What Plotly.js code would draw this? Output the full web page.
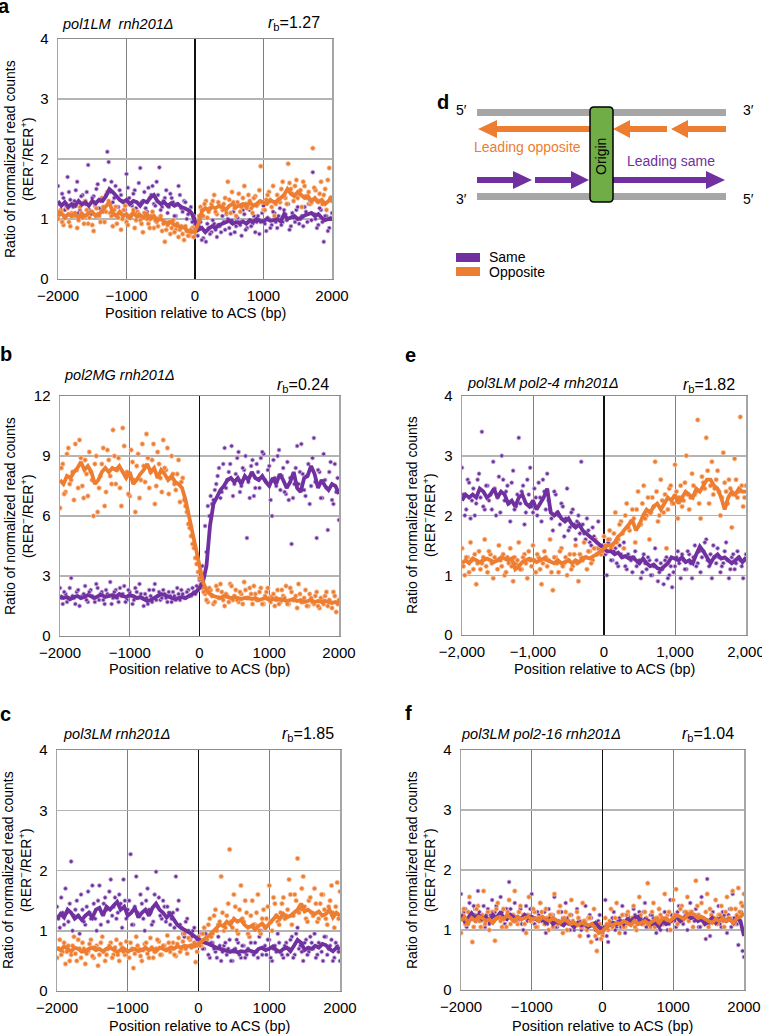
<!DOCTYPE html>
<html><head><meta charset="utf-8">
<script src="https://cdn.plot.ly/plotly-3.0.1.min.js"></script>
<style>html,body{margin:0;padding:0;background:#fff}#chart{width:762px;height:1036px}</style>
</head><body><div id="chart"></div>
<script>
// ---------- data ----------
const dotPositions = [-2000,-1960,-1920,-1880,-1840,-1800,-1760,-1720,-1680,-1640,
-1600,-1560,-1520,-1480,-1440,-1400,-1360,-1320,-1280,-1240,
-1200,-1160,-1120,-1080,-1040,-1000,-960,-920,-880,-840,
-800,-760,-720,-680,-640,-600,-560,-520,-480,-440,
-400,-360,-320,-280,-240,-200,-160,-120,-80,-40,
0,40,80,120,160,200,240,280,320,360,
400,440,480,520,560,600,640,680,720,760,
800,840,880,920,960,1000,1040,1080,1120,1160,
1200,1240,1280,1320,1360,1400,1440,1480,1520,1560,
1600,1640,1680,1720,1760,1800,1840,1880,1920,1960,2000];
const dotPositions2 = [-1980,-1940,-1900,-1860,-1820,-1780,-1740,-1700,-1660,-1620,
-1580,-1540,-1500,-1460,-1420,-1380,-1340,-1300,-1260,-1220,
-1180,-1140,-1100,-1060,-1020,-980,-940,-900,-860,-820,
-780,-740,-700,-660,-620,-580,-540,-500,-460,-420,
-380,-340,-300,-260,-220,-180,-140,-100,-60,-20,
20,60,100,140,180,220,260,300,340,380,
420,460,500,540,580,620,660,700,740,780,
820,860,900,940,980,1020,1060,1100,1140,1180,
1220,1260,1300,1340,1380,1420,1460,1500,1540,1580,
1620,1660,1700,1740,1780,1820,1860,1900,1940,1980];
const linePositions = [-2000,-1950,-1900,-1850,-1800,-1750,-1700,-1650,-1600,-1550,
-1500,-1450,-1400,-1350,-1300,-1250,-1200,-1150,-1100,-1050,
-1000,-950,-900,-850,-800,-750,-700,-650,-600,-550,
-500,-450,-400,-350,-300,-250,-200,-150,-100,-50,
0,50,100,150,200,250,300,350,400,450,
500,550,600,650,700,750,800,850,900,950,
1000,1050,1100,1150,1200,1250,1300,1350,1400,1450,
1500,1550,1600,1650,1700,1750,1800,1850,1900,1950,2000];

// panel a: pol1LM rnh201Δ
const aSameDots = [1.55,1.10,1.35,1.20,1.45,1.05,1.30,1.62,1.15,1.40,
1.25,1.90,1.08,1.38,1.50,1.18,1.32,1.65,2.12,1.45,
1.28,1.55,1.20,1.40,1.15,1.75,1.35,1.22,1.48,1.10,
1.85,1.30,1.18,1.52,1.40,1.25,1.62,1.86,1.20,1.35,
1.10,1.42,1.28,1.05,1.55,1.18,1.30,1.00,1.15,0.95,
0.90,0.72,0.95,0.68,0.62,0.85,0.78,0.92,0.70,0.88,
1.05,0.82,1.00,0.75,1.12,0.88,0.95,0.72,1.08,0.85,
1.15,0.92,0.78,1.05,0.95,1.22,0.80,1.00,0.90,1.10,
0.85,1.18,0.95,1.08,1.25,0.88,1.02,1.15,0.92,1.05,
1.20,0.95,1.30,1.78,1.00,0.90,1.15,0.62,1.05,0.85,1.10];
const aSameDots2 = [1.25,1.42,1.15,1.70,1.32,1.20,1.48,1.10,1.38,1.28,
1.45,1.15,1.35,1.22,1.58,1.30,1.12,1.40,1.95,1.62,
1.35,1.20,1.48,1.30,1.15,1.52,1.25,1.42,1.18,1.60,
1.28,1.45,1.12,1.35,1.55,1.22,1.40,1.15,1.30,1.48,
1.20,1.35,1.05,1.25,1.40,1.12,1.28,1.08,1.20,1.05,
0.80,0.88,0.65,0.80,0.92,0.75,0.98,0.82,0.90,0.78,
0.95,1.08,0.85,0.98,0.78,1.02,0.90,1.15,0.82,0.95,
0.88,1.05,0.95,0.75,1.10,0.92,1.02,0.85,1.12,0.95,
1.05,0.90,1.15,0.98,0.82,1.10,0.95,1.20,1.00,0.88,
1.12,1.25,0.98,1.08,0.85,1.18,0.95,1.05,0.80,1.02];
const aOppDots = [1.00,1.15,0.90,1.25,0.95,1.10,1.05,0.85,1.20,1.02,
1.30,0.92,1.12,0.80,1.18,1.05,1.35,0.95,1.45,1.10,
0.88,1.20,1.02,0.82,1.15,0.95,1.25,1.08,0.85,1.12,
0.98,0.78,1.10,0.92,1.05,0.85,0.95,1.02,0.80,0.62,
0.90,0.75,0.98,0.82,0.70,0.88,0.65,0.80,0.72,0.85,
0.78,0.95,1.20,1.05,1.30,1.12,1.25,1.40,1.08,1.22,
1.15,1.35,1.62,1.10,1.28,1.05,1.42,1.20,1.55,1.18,
1.30,1.10,1.38,1.25,1.88,1.15,1.32,1.45,1.20,1.05,
1.40,1.28,1.62,1.35,1.92,1.50,1.30,1.65,1.42,1.20,
1.55,1.35,1.25,2.18,1.48,1.30,1.62,1.40,1.15,1.85,1.30];
const aOppDots2 = [1.12,0.95,1.05,1.18,0.88,1.08,1.22,0.98,1.10,0.92,
1.15,1.02,0.90,1.25,1.08,0.95,1.20,1.12,1.30,1.05,
1.15,0.92,1.10,1.00,1.22,0.90,1.05,1.15,0.98,1.08,
0.92,1.10,1.00,0.85,1.12,0.98,0.88,1.05,0.92,0.82,
0.95,0.85,0.78,0.92,0.82,0.75,0.88,0.72,0.82,0.70,
0.88,1.05,1.15,1.25,1.02,1.18,1.30,1.12,1.28,1.20,
1.25,1.10,1.32,1.45,1.18,1.28,1.12,1.35,1.25,1.40,
1.18,1.35,1.22,1.48,1.28,1.15,1.40,1.30,1.55,1.25,
1.32,1.50,1.38,1.25,1.60,1.42,1.55,1.35,1.48,1.62,
1.38,1.45,1.28,1.52,1.30,1.42,1.25,1.50,1.65,1.35];
const aSameLine = [1.30,1.22,1.28,1.20,1.25,1.22,1.30,1.24,1.28,1.22,
1.30,1.26,1.32,1.30,1.38,1.50,1.45,1.38,1.32,1.28,
1.32,1.25,1.30,1.28,1.22,1.30,1.28,1.36,1.40,1.30,
1.25,1.28,1.22,1.26,1.22,1.25,1.20,1.18,1.15,1.10,
0.95,0.82,0.85,0.78,0.84,0.88,0.85,0.90,0.92,0.95,
0.97,0.92,0.95,0.93,0.96,0.92,0.98,0.95,1.00,0.97,
0.96,1.00,0.97,0.98,1.00,0.96,1.08,1.00,1.02,1.05,
1.00,1.02,1.06,1.08,1.10,1.05,1.08,1.02,0.98,1.00,1.00];
const aOppLine = [1.05,1.10,1.02,1.08,1.05,1.10,1.02,1.08,1.05,1.10,
1.12,1.05,1.08,1.15,1.22,1.28,1.10,1.05,1.12,1.05,
1.08,1.02,1.10,1.04,1.06,1.02,1.08,1.00,1.05,0.98,
1.00,0.95,0.92,0.95,0.90,0.88,0.86,0.85,0.80,0.78,
0.80,0.92,1.12,1.18,1.15,1.20,1.18,1.22,1.20,1.15,
1.22,1.25,1.20,1.22,1.25,1.20,1.28,1.22,1.25,1.30,
1.28,1.25,1.32,1.28,1.30,1.35,1.40,1.50,1.42,1.38,
1.45,1.40,1.35,1.38,1.30,1.35,1.28,1.32,1.25,1.30,1.38];

// panel b: pol2MG rnh201Δ
const bSameDots = [2.4,1.6,2.1,1.8,2.9,1.9,2.2,1.5,2.0,2.5,
1.7,2.3,1.9,2.6,1.8,2.2,1.6,2.1,2.7,1.9,
2.3,1.7,2.0,2.5,1.8,2.2,1.6,2.4,1.9,2.1,
1.5,1.9,2.3,1.7,2.6,2.0,1.8,2.3,1.9,2.2,
1.7,2.0,2.4,1.8,2.1,1.9,2.3,2.0,2.2,2.5,
2.8,3.5,5.5,6.5,7.0,6.8,7.6,8.4,7.2,9.4,
7.8,8.6,7.0,8.1,9.2,7.5,8.3,4.9,6.9,8.8,
7.4,8.2,8.9,9.1,7.7,8.5,6.0,7.9,9.0,7.3,
8.4,7.1,6.8,4.6,7.6,9.5,8.2,8.1,7.0,8.6,
7.5,9.9,4.9,8.2,6.9,7.8,5.3,8.7,6.6,7.2,5.8];
const bSameDots2 = [1.9,2.2,1.7,2.4,2.0,1.6,2.3,1.9,2.1,1.8,
2.2,2.0,1.7,2.4,2.1,1.8,2.3,2.0,1.6,2.2,
1.9,2.4,2.1,1.7,2.3,2.0,1.8,2.2,2.6,1.9,
2.1,1.6,2.0,2.3,1.8,2.2,1.9,2.1,1.7,2.0,
2.2,1.8,2.1,2.3,1.9,2.2,2.0,2.4,2.1,2.3,
2.6,3.0,4.2,6.0,6.6,7.3,8.0,6.9,8.6,7.4,
8.2,9.5,7.6,8.9,7.2,8.4,9.0,7.7,8.5,7.0,
8.6,7.4,9.2,7.8,8.3,6.8,8.8,7.5,9.3,8.0,
7.2,8.7,7.9,6.9,8.4,7.6,9.6,7.3,8.0,6.6,
8.9,7.7,8.3,6.9,9.1,7.4,8.2,6.8,8.6,7.9];
const bOppDots = [6.4,8.6,7.2,9.4,7.8,6.8,8.3,9.8,7.5,8.8,
7.0,8.2,6.0,9.0,7.4,8.6,6.5,9.3,8.0,10.3,
7.6,8.9,6.5,9.5,8.2,7.0,8.7,6.2,9.1,7.8,
8.5,10.1,7.4,8.8,6.6,9.2,7.9,9.8,8.3,7.1,
9.0,7.6,8.1,6.7,7.9,6.5,5.6,5.0,4.4,3.6,
2.9,2.4,2.1,1.7,2.3,1.6,2.5,1.9,2.2,1.5,
2.0,2.6,1.8,2.3,1.7,2.1,2.7,1.9,2.4,1.6,
2.1,1.8,2.4,1.6,2.2,1.9,2.0,1.5,2.3,1.7,
2.0,2.5,1.6,2.2,1.8,1.4,2.1,1.7,2.3,1.5,
1.9,1.6,2.2,1.4,1.8,2.0,1.5,1.7,2.2,1.2,1.8];
const bOppDots2 = [8.4,7.1,9.1,7.6,8.2,9.6,7.4,8.9,6.9,8.1,
9.2,7.8,8.6,6.2,8.0,9.4,7.2,8.8,7.6,9.0,
8.3,7.4,10.4,8.0,7.1,9.3,7.8,8.5,6.9,9.6,
7.7,8.9,8.2,9.6,7.5,8.6,7.2,8.4,9.4,7.9,
8.1,7.3,8.8,7.7,6.8,6.2,5.4,4.6,3.9,3.2,
2.6,2.2,1.8,2.4,2.0,1.7,2.3,2.6,1.8,2.1,
1.7,2.5,2.0,1.8,2.2,1.6,2.3,1.9,2.1,2.5,
1.8,2.2,1.6,2.0,2.4,1.7,2.1,1.9,1.6,2.3,
1.9,1.6,2.4,1.8,2.0,2.6,1.7,1.9,1.5,2.1,
1.7,2.0,1.5,1.9,1.6,2.2,1.8,1.4,2.0,1.6];
const bSameLine = [2.0,1.9,1.95,1.85,1.95,2.0,1.9,1.95,2.05,1.95,
1.9,2.0,2.05,1.95,2.0,2.05,1.95,2.1,2.0,1.95,
2.05,2.0,1.9,1.95,1.85,1.75,1.8,1.9,2.0,2.1,
2.05,1.95,1.9,1.85,1.9,1.95,1.9,2.0,2.05,2.2,
2.4,2.7,3.5,5.5,6.6,7.0,7.3,7.5,7.8,7.9,
7.7,7.9,7.6,8.0,7.8,8.2,7.9,7.8,8.0,7.7,
7.5,7.9,7.6,8.1,7.8,7.4,7.7,8.2,7.4,7.2,
7.9,8.0,8.5,8.1,7.4,7.8,7.5,7.3,7.6,7.5,7.1];
const bOppLine = [7.8,7.6,8.0,7.9,8.2,8.4,8.7,8.3,8.5,8.2,
7.6,7.8,8.2,8.4,8.2,8.4,8.3,8.5,8.2,7.9,
8.2,7.6,7.8,8.1,8.3,8.6,8.2,8.4,7.9,8.3,
8.1,7.8,8.0,7.7,7.6,7.4,6.8,6.0,5.2,4.3,
3.4,2.7,2.3,2.1,2.0,1.95,1.9,2.0,1.95,1.9,
1.95,1.9,1.85,1.9,1.9,1.85,1.9,1.8,1.85,1.9,
1.8,1.85,1.8,1.85,1.8,1.75,1.8,1.85,1.75,1.8,
1.7,1.75,1.8,1.7,1.75,1.7,1.75,1.7,1.65,1.7,1.65];

// panel c: pol3LM rnh201Δ
const cSameDots = [1.4,1.05,1.3,1.7,1.15,2.15,1.25,1.5,0.95,1.35,
1.1,1.65,1.2,1.45,1.0,1.75,1.3,1.55,1.15,1.85,
1.4,1.2,1.6,1.05,1.5,1.35,2.27,1.1,1.9,1.25,
1.45,1.0,1.7,1.3,1.15,1.98,1.55,1.2,1.4,1.4,
1.1,1.3,1.9,1.5,1.05,0.9,1.2,0.85,1.0,0.8,
0.75,0.95,0.7,0.85,0.55,0.8,0.65,0.9,0.5,0.75,
0.6,0.85,0.5,0.7,0.8,0.55,0.75,0.6,0.9,0.65,
0.8,0.55,1.0,0.7,0.6,0.85,0.5,0.75,0.95,0.65,
0.55,0.8,0.7,0.9,0.6,1.05,0.75,0.5,0.85,0.65,
0.8,0.95,0.6,0.75,0.5,0.9,0.7,0.85,0.55,0.75,0.5];
const cSameDots2 = [1.2,1.55,1.1,1.3,1.45,1.0,1.35,1.25,1.6,1.15,
1.4,1.3,1.75,1.2,1.5,1.1,1.45,1.35,1.65,1.25,
1.55,1.3,1.45,1.85,1.2,1.5,1.1,1.4,1.3,1.6,
1.2,1.5,1.35,1.1,1.6,1.4,1.25,1.5,1.15,1.3,
1.2,1.05,1.35,1.1,0.95,1.15,1.0,0.9,1.05,0.85,
0.85,0.7,0.95,0.6,0.8,0.7,0.55,0.75,0.65,0.8,
0.7,0.5,0.65,0.85,0.6,0.75,0.55,0.7,0.8,0.6,
0.65,0.9,0.6,0.75,0.85,0.55,0.7,0.65,0.8,0.6,
0.75,0.6,0.85,0.55,0.95,0.7,0.65,0.8,0.6,0.9,
0.7,0.55,0.8,0.65,0.9,0.6,0.75,0.5,0.8,0.65];
const cOppDots = [0.55,0.85,0.65,0.45,0.75,0.6,0.9,0.5,0.7,0.8,
0.45,0.65,0.85,0.55,0.75,0.6,0.9,0.5,0.7,0.8,
0.6,0.85,0.5,0.72,0.6,0.65,0.8,0.38,0.9,0.7,
0.5,0.78,0.62,0.88,0.55,0.7,0.82,0.6,0.75,0.92,
0.65,0.8,0.58,0.88,0.7,0.95,0.62,0.85,0.75,0.48,
0.9,0.75,1.05,0.85,1.2,0.95,1.35,1.1,1.9,1.0,
1.25,2.35,1.05,1.4,0.95,1.75,1.15,1.3,0.9,1.5,
1.1,1.6,0.95,1.35,1.2,1.75,1.0,1.45,1.15,1.3,
1.55,1.25,1.85,1.1,1.6,2.2,1.35,1.9,1.2,1.5,
1.3,1.7,1.15,1.45,1.6,1.2,1.4,1.75,1.05,1.8,1.65];
const cOppDots2 = [0.7,0.6,0.8,0.65,0.5,0.75,0.62,0.85,0.55,0.7,
0.62,0.78,0.58,0.72,0.42,0.8,0.65,0.6,0.75,0.55,
0.72,0.6,0.78,0.65,0.82,0.55,0.7,0.62,0.75,0.58,
0.68,0.8,0.55,0.72,0.65,0.85,0.6,0.75,0.68,0.8,
0.72,0.6,0.78,0.65,0.82,0.7,0.88,0.72,0.8,0.65,
0.75,0.95,0.8,1.1,0.9,1.25,1.0,1.15,1.3,1.05,
1.45,1.15,1.6,1.0,1.35,1.2,1.5,0.95,1.25,1.1,
1.3,1.0,1.2,1.05,1.4,1.15,1.55,1.25,1.1,1.45,
1.2,1.35,1.6,1.25,1.5,1.3,1.7,1.4,1.15,1.55,
1.25,1.45,1.2,1.6,1.35,1.1,1.5,1.3,1.4,1.2];
const cSameLine = [1.2,1.28,1.22,1.35,1.3,1.2,1.25,1.18,1.25,1.3,
1.22,1.35,1.38,1.25,1.4,1.35,1.42,1.48,1.35,1.4,
1.25,1.3,1.38,1.22,1.3,1.35,1.25,1.38,1.45,1.35,
1.3,1.22,1.28,1.2,1.1,1.05,1.02,0.98,0.95,0.9,
0.86,0.82,0.8,0.78,0.75,0.72,0.7,0.68,0.66,0.65,
0.68,0.64,0.66,0.65,0.68,0.66,0.64,0.7,0.72,0.68,
0.7,0.74,0.68,0.65,0.7,0.72,0.66,0.75,0.85,0.8,
0.68,0.72,0.7,0.75,0.72,0.78,0.76,0.7,0.66,0.72,0.7];
const cOppLine = [0.72,0.68,0.74,0.7,0.66,0.72,0.7,0.65,0.66,0.7,
0.72,0.68,0.7,0.66,0.7,0.72,0.68,0.65,0.68,0.7,
0.66,0.68,0.7,0.66,0.68,0.72,0.68,0.7,0.66,0.72,
0.7,0.68,0.72,0.7,0.74,0.72,0.75,0.74,0.76,0.74,
0.78,0.84,0.88,0.92,0.98,1.05,1.1,1.08,1.15,1.1,
1.2,1.15,1.18,1.1,1.05,1.08,1.02,1.08,1.12,1.05,
1.12,1.18,1.25,1.2,1.28,1.22,1.25,1.3,1.35,1.45,
1.32,1.35,1.3,1.28,1.32,1.25,1.28,1.35,1.22,1.3,1.25];

// panel e: pol3LM pol2-4 rnh201Δ
const eSameDots = [2.8,2.0,2.6,1.95,2.45,2.2,2.7,3.4,2.1,2.5,
2.35,2.9,2.0,2.65,3.0,2.25,2.5,1.9,2.75,2.15,
3.3,2.4,1.85,2.6,2.8,2.05,2.3,2.55,1.9,2.4,
2.7,2.1,1.75,2.35,2.0,2.2,1.65,2.45,1.8,2.1,
1.6,2.0,2.9,1.7,1.95,1.55,1.8,1.45,1.9,1.35,
1.5,1.0,1.6,1.25,1.45,1.15,1.35,1.55,1.1,1.3,
1.05,1.4,1.2,0.95,1.35,1.1,1.25,1.0,1.45,0.9,
1.2,0.85,1.3,1.0,0.8,1.15,1.4,0.95,1.25,1.1,
1.35,0.95,1.5,1.2,1.05,1.4,1.6,1.15,0.95,1.3,
1.45,1.05,1.2,1.55,0.95,1.3,1.1,1.4,1.25,0.95,1.35];
const eSameDots2 = [2.35,2.1,2.55,2.25,2.0,2.6,2.3,2.15,2.5,2.25,
2.1,2.45,2.3,2.05,2.6,2.4,2.2,2.55,2.1,2.35,
2.2,2.5,2.05,2.35,2.15,2.45,2.0,2.3,2.6,2.1,
2.25,1.95,2.4,2.05,1.85,2.15,1.95,1.75,2.05,1.85,
1.9,1.7,1.85,1.6,1.75,1.5,1.65,1.55,1.4,1.5,
1.35,1.55,1.25,1.4,1.2,1.5,1.3,1.15,1.35,1.25,
1.3,1.15,1.25,1.05,1.2,1.3,1.0,1.15,1.25,1.05,
1.1,1.25,0.95,1.15,1.05,1.3,1.2,1.35,1.1,1.4,
1.2,1.3,1.15,1.4,1.3,1.55,1.25,1.35,1.5,1.2,
1.3,1.15,1.4,1.25,1.1,1.35,1.2,1.3,1.15,1.25];
const eOppDots = [1.45,1.0,1.3,1.55,1.1,0.85,1.4,1.2,1.6,1.05,
1.35,0.95,1.25,1.5,1.15,1.0,1.3,1.45,0.9,1.2,
1.55,1.1,1.35,0.95,1.25,1.5,1.05,1.3,0.85,1.4,
1.15,1.6,0.75,1.3,1.05,1.45,1.2,1.0,1.35,1.15,
1.5,0.9,1.3,1.55,1.1,1.4,1.25,1.6,1.45,1.35,
1.65,1.4,1.75,1.5,2.05,1.6,1.9,1.45,2.2,1.75,
2.1,1.55,2.4,1.85,2.5,2.0,1.6,2.3,2.9,1.9,
2.6,2.05,1.45,2.45,2.2,2.85,1.95,2.5,2.25,3.0,
2.1,2.7,2.35,3.6,1.95,2.55,3.3,2.2,2.9,2.45,
2.75,2.0,3.05,2.4,2.6,1.8,2.95,2.3,3.65,2.15,2.5];
const eOppDots2 = [1.15,1.3,1.05,1.25,1.35,1.2,1.1,1.3,1.15,1.4,
1.2,1.3,1.1,1.25,1.35,1.05,1.2,1.15,1.3,1.25,
1.1,1.3,1.2,1.4,1.15,1.25,1.35,1.1,1.2,1.3,
1.25,1.05,1.3,1.2,1.4,1.15,1.3,1.25,1.1,1.35,
1.2,1.35,1.25,1.3,1.4,1.2,1.45,1.35,1.5,1.4,
1.5,1.6,1.45,1.7,1.55,1.85,1.7,2.0,1.8,1.9,
1.95,2.1,1.85,2.2,1.95,2.3,2.05,2.15,2.4,2.0,
2.25,2.35,2.1,2.5,2.2,2.4,2.3,2.15,2.55,2.35,
2.3,2.5,2.4,2.2,2.65,2.45,2.75,2.5,2.35,2.6,
2.4,2.3,2.55,2.2,2.45,2.35,2.6,2.4,2.5,2.3];
const eSameLine = [2.25,2.35,2.3,2.35,2.3,2.45,2.4,2.3,2.35,2.45,
2.3,2.4,2.35,2.2,2.25,2.15,2.3,2.35,2.2,2.15,
2.25,2.1,2.2,2.3,2.45,2.05,2.0,2.05,1.95,1.9,
1.95,1.85,1.8,1.85,1.75,1.7,1.65,1.6,1.55,1.5,
1.45,1.4,1.4,1.35,1.38,1.3,1.32,1.28,1.3,1.25,
1.2,1.28,1.2,1.15,1.18,1.12,1.1,1.15,1.2,1.3,
1.28,1.25,1.3,1.22,1.25,1.2,1.35,1.48,1.4,1.3,
1.2,1.3,1.35,1.28,1.3,1.25,1.2,1.25,1.3,1.22,1.3];
const eOppLine = [1.2,1.25,1.2,1.28,1.25,1.22,1.25,1.28,1.25,1.22,
1.25,1.3,1.28,1.25,1.28,1.1,1.15,1.22,1.25,1.28,
1.25,1.22,1.25,1.28,1.25,1.22,1.2,1.25,1.2,1.22,
1.25,1.2,1.25,1.22,1.28,1.3,1.28,1.32,1.35,1.4,
1.45,1.5,1.5,1.55,1.65,1.7,1.78,1.85,1.92,1.75,
1.85,2.0,2.1,2.05,2.15,2.2,2.1,2.2,2.3,2.25,
2.35,2.2,2.3,2.4,2.35,2.3,2.45,2.4,2.5,2.6,
2.6,2.5,2.45,2.3,2.1,2.3,2.4,2.35,2.45,2.4,2.4];

// panel f: pol3LM pol2-16 rnh201Δ
const fSameDots = [1.6,1.3,1.05,1.45,1.2,1.35,1.65,1.15,1.4,1.25,
1.1,1.5,1.3,1.2,1.55,1.05,1.35,1.8,1.25,1.45,
1.15,1.35,1.0,1.4,1.25,1.6,1.1,1.3,1.45,1.2,
0.95,1.35,1.15,1.55,1.05,1.3,1.2,1.45,1.1,1.25,
1.0,1.35,1.15,1.05,1.4,0.9,1.2,1.1,0.85,1.25,
0.95,1.5,0.8,1.15,1.3,1.05,1.2,1.4,0.95,1.25,
1.1,1.35,1.0,1.3,1.15,1.45,1.05,1.25,1.2,0.95,
1.35,1.1,1.3,1.0,1.5,1.2,1.05,1.4,1.15,1.3,
1.0,1.45,1.2,1.35,1.05,1.55,1.15,1.85,0.9,1.3,
1.15,1.4,1.05,1.25,0.95,1.35,1.6,1.1,0.75,1.3,0.55];
const fSameDots2 = [1.2,1.35,1.1,1.25,1.4,1.15,1.3,1.2,1.05,1.35,
1.25,1.15,1.4,1.2,1.3,1.1,1.25,1.35,1.15,1.2,
1.3,1.1,1.25,1.15,1.35,1.2,1.05,1.25,1.15,1.3,
1.1,1.2,1.25,1.05,1.15,1.3,1.1,1.2,1.0,1.15,
1.1,1.2,1.0,1.15,1.05,1.25,1.1,1.0,1.15,1.05,
1.05,0.9,1.1,1.2,1.0,1.15,1.05,1.25,1.1,1.2,
1.15,1.25,1.1,1.2,1.3,1.05,1.15,1.25,1.1,1.2,
1.0,1.15,1.2,1.1,1.25,1.15,1.3,1.2,1.1,1.25,
1.2,1.3,1.15,1.25,1.05,1.2,0.85,1.1,1.25,1.15,
1.2,1.1,1.3,1.15,1.25,1.05,1.2,1.1,1.15,0.65];
const fOppDots = [0.95,1.35,1.1,1.55,0.8,1.25,1.4,1.05,1.65,1.2,
1.0,1.3,0.82,1.45,1.15,1.35,1.05,1.5,1.2,1.65,
1.1,1.4,1.25,0.95,1.55,1.15,1.3,1.05,1.45,1.2,
1.35,1.0,1.25,1.6,1.1,1.4,0.95,1.3,1.15,1.5,
1.05,1.3,0.9,1.45,1.15,1.2,0.8,1.35,0.65,1.1,
0.9,1.2,1.0,1.35,1.1,1.45,0.95,1.25,1.05,1.3,
1.15,1.4,1.0,1.55,1.1,1.3,1.78,1.05,1.45,1.2,
1.35,1.1,1.6,1.25,1.0,1.5,1.68,1.15,1.4,1.2,
1.55,1.3,1.05,1.82,1.25,1.45,1.1,1.6,1.35,1.15,
1.5,1.25,1.4,1.05,1.55,1.2,1.65,1.35,1.7,1.45,1.6];
const fOppDots2 = [1.25,1.1,1.3,1.2,1.05,1.35,1.15,1.25,1.1,1.3,
1.2,1.15,1.35,1.25,1.05,1.2,1.3,1.1,1.25,1.15,
1.3,1.2,1.1,1.25,1.15,1.35,1.05,1.2,1.3,1.1,
1.2,1.25,1.05,1.15,1.3,1.1,1.2,1.0,1.25,1.15,
1.1,1.2,1.05,1.15,1.0,1.2,1.1,0.9,1.05,0.85,
1.0,1.1,1.15,1.05,1.2,1.1,1.15,1.05,1.25,1.1,
1.2,1.05,1.15,1.25,1.1,1.2,1.15,1.3,1.05,1.2,
1.25,1.1,1.2,1.3,1.15,1.25,1.1,1.35,1.2,1.3,
1.15,1.3,1.25,1.4,1.2,1.15,1.3,1.05,1.25,1.2,
1.1,1.25,1.15,1.3,1.2,1.35,1.1,1.25,1.3,1.4];
const fSameLine = [1.25,1.15,1.2,1.28,1.2,1.25,1.18,1.22,1.15,1.25,
1.2,1.28,1.22,1.18,1.25,1.2,1.22,1.18,1.25,1.2,
1.22,1.18,1.15,1.2,1.12,1.18,1.1,1.15,1.12,1.08,
1.15,1.1,1.05,1.12,1.08,1.1,1.05,1.08,1.12,1.05,
1.0,1.05,1.08,1.12,1.1,1.15,1.1,1.18,1.15,1.2,
1.22,1.12,1.18,1.15,1.1,1.12,1.05,1.15,1.1,1.15,
1.18,1.22,1.15,1.2,1.25,1.2,1.22,1.15,1.18,1.1,
1.15,1.2,1.12,1.18,1.2,1.15,1.18,1.12,1.2,1.15,0.9];
const fOppLine = [1.15,1.22,1.12,1.2,1.15,1.22,1.2,1.15,1.18,1.12,
1.2,1.22,1.18,1.25,1.2,1.15,1.22,1.18,1.2,1.22,
1.18,1.2,1.15,1.22,1.18,1.15,1.2,1.15,1.12,1.18,
1.15,1.1,1.12,1.08,1.12,1.1,1.08,1.1,1.02,0.95,
0.98,1.05,1.1,1.08,1.12,1.1,1.15,1.12,1.08,1.15,
1.1,1.12,1.15,1.1,1.15,1.18,1.12,1.2,1.18,1.15,
1.2,1.25,1.22,1.18,1.25,1.28,1.25,1.2,1.22,1.18,
1.15,1.12,1.18,1.15,1.2,1.15,1.18,1.12,1.2,1.22,1.28];

const tickValsX = [-2000,-1000,0,1000,2000];
const tickTextPlain = ['\u22122000','\u22121000','0','1000','2000'];
const tickTextComma = ['\u22122,000','\u22121,000','0','1,000','2,000'];
const strainNames = {a:'pol1LM  rnh201\u0394', b:'pol2MG rnh201\u0394', c:'pol3LM rnh201\u0394', e:'pol3LM pol2-4 rnh201\u0394', f:'pol3LM pol2-16 rnh201\u0394'};
const rbValues = {a:'1.27', b:'0.24', c:'1.85', e:'1.82', f:'1.04'};
const legendLabels = ['Same','Opposite'];

// ---------- layout helpers ----------
const W = 762, H = 1036;
const PX = p => p / W, PY = p => 1 - p / H;
const PURPLE = '#7030A0', ORANGE = '#ED7D31', GREEN = '#70AD47', GREYBAR = '#A6A6A6';
const FONT = 'Liberation Sans, Arial, Helvetica, sans-serif';

const panels = [
  {k:'a', ax:'', dom:[58,332,39,279], yr:4, dt:1, tt:tickTextPlain,
   sd:aSameDots, sd2:aSameDots2, od:aOppDots, od2:aOppDots2, sl:aSameLine, ol:aOppLine,
   ttl:[60,24], rb:[322,24], ytl:[19,159], xtl:[195,313], lab:[4,6]},
  {k:'b', ax:'2', dom:[60,339,396,636], yr:12, dt:3, tt:tickTextPlain,
   sd:bSameDots, sd2:bSameDots2, od:bOppDots, od2:bOppDots2, sl:bSameLine, ol:bOppLine,
   ttl:[62,375], rb:[331,385], ytl:[19,516], xtl:[199,669], lab:[6,354]},
  {k:'c', ax:'3', dom:[57,340,750,991], yr:4, dt:1, tt:tickTextPlain,
   sd:cSameDots, sd2:cSameDots2, od:cOppDots, od2:cOppDots2, sl:cSameLine, ol:cOppLine,
   ttl:[61,734], rb:[336,734], ytl:[17,870], xtl:[199,1026], lab:[5,714]},
  {k:'e', ax:'4', dom:[462,746,396,635], yr:4, dt:1, tt:tickTextComma,
   sd:eSameDots, sd2:eSameDots2, od:eOppDots, od2:eOppDots2, sl:eSameLine, ol:eOppLine,
   ttl:[465,383], rb:[737,385], ytl:[421,515], xtl:[604,669], lab:[410,355]},
  {k:'f', ax:'5', dom:[461,744,750,990], yr:4, dt:1, tt:tickTextPlain,
   sd:fSameDots, sd2:fSameDots2, od:fOppDots, od2:fOppDots2, sl:fSameLine, ol:fOppLine,
   ttl:[459,734], rb:[736,734], ytl:[421,870], xtl:[602,1026], lab:[408,713]}
];

const traces = [];
const layout = {
  width: W, height: H, margin: {l:0, r:0, t:0, b:0},
  paper_bgcolor: '#fff', plot_bgcolor: '#fff', showlegend: false,
  font: {family: FONT, color: '#000', size: 14},
  annotations: [], shapes: []
};

const dotSame = {color:PURPLE, size:4, line:{color:'#C9B4DC', width:0.8}};
const dotOpp = {color:ORANGE, size:4.5, line:{color:'#F7C4A1', width:0.8}};

panels.forEach(p => {
  const xa = 'x' + p.ax, ya = 'y' + p.ax;
  const base = {type:'scatter', xaxis:xa, yaxis:ya, hoverinfo:'skip'};
  traces.push(Object.assign({mode:'markers', x:dotPositions, y:p.sd, marker:dotSame}, base));
  traces.push(Object.assign({mode:'markers', x:dotPositions2, y:p.sd2, marker:dotSame}, base));
  traces.push(Object.assign({mode:'markers', x:dotPositions, y:p.od, marker:dotOpp}, base));
  traces.push(Object.assign({mode:'markers', x:dotPositions2, y:p.od2, marker:dotOpp}, base));
  traces.push(Object.assign({mode:'lines', x:linePositions, y:p.sl, line:{color:PURPLE, width:3.8}}, base));
  traces.push(Object.assign({mode:'lines', x:linePositions, y:p.ol, line:{color:ORANGE, width:3.8}}, base));
  layout['xaxis' + p.ax] = {
    domain:[PX(p.dom[0]), PX(p.dom[1])], anchor:ya, range:[-2000,2000],
    tickmode:'array', tickvals:tickValsX, ticktext:p.tt,
    showgrid:true, gridcolor:'#7f7f7f', gridwidth:1,
    zeroline:true, zerolinecolor:'#111', zerolinewidth:1.2,
    showline:true, linecolor:'#8c8c8c', linewidth:1.3, mirror:true,
    ticks:'', ticklabelstandoff:3, ticklabeloverflow:'allow',
    tickfont:{size:15, color:'#000', family:FONT}, fixedrange:true
  };
  layout['yaxis' + p.ax] = {
    domain:[PY(p.dom[3]), PY(p.dom[2])], anchor:xa, range:[0,p.yr], dtick:p.dt, tick0:0,
    showgrid:true, gridcolor:'#b4b4b4', gridwidth:1.5, zeroline:false,
    showline:true, linecolor:'#a6a6a6', linewidth:1.5, mirror:true,
    ticks:'', ticklabelstandoff:5, tickfont:{size:15, color:'#000', family:FONT}, fixedrange:true
  };
  const A = layout.annotations;
  A.push({xref:'paper', yref:'paper', x:PX(p.ttl[0]), y:PY(p.ttl[1]), xanchor:'left', yanchor:'middle', showarrow:false,
    text:'<i>' + strainNames[p.k] + '</i>', font:{size:14.5, family:FONT, color:'#000'}});
  A.push({xref:'paper', yref:'paper', x:PX(p.rb[0]), y:PY(p.rb[1]), xanchor:'right', yanchor:'middle', showarrow:false,
    text:'<i>r</i><sub>b</sub>=' + rbValues[p.k], font:{size:16, family:FONT, color:'#000'}});
  A.push({xref:'paper', yref:'paper', x:PX(p.ytl[0]), y:PY(p.ytl[1]), xanchor:'center', yanchor:'middle', showarrow:false,
    textangle:-90, text:'Ratio of normalized read counts<br>(RER<sup>\u2212</sup>/RER<sup>+</sup>)',
    font:{size:14, family:FONT, color:'#000'}});
  A.push({xref:'paper', yref:'paper', x:PX(p.xtl[0]), y:PY(p.xtl[1]), xanchor:'center', yanchor:'middle', showarrow:false,
    text:'Position relative to ACS (bp)', font:{size:14.5, family:FONT, color:'#000'}});
  A.push({xref:'paper', yref:'paper', x:PX(p.lab[0]), y:PY(p.lab[1]), xanchor:'center', yanchor:'middle', showarrow:false,
    text:'<b>' + p.k + '</b>', font:{size:20, family:FONT, color:'#000'}});
});

// ---------- panel d: schematic ----------
const S = layout.shapes, A = layout.annotations;
function rect(x0,y0,x1,y1,color){ S.push({type:'rect', xref:'paper', yref:'paper', x0:PX(x0), x1:PX(x1), y0:PY(y1), y1:PY(y0), fillcolor:color, line:{width:0}, layer:'above'}); }
function poly(pts,color){
  const d = 'M' + pts.map(q => PX(q[0]).toFixed(5) + ',' + PY(q[1]).toFixed(5)).join(' L') + ' Z';
  S.push({type:'path', xref:'paper', yref:'paper', path:d, fillcolor:color, line:{width:0}, layer:'above'});
}
function arrowL(tip, base, tail, cy, color){
  poly([[tip,cy],[base,cy-9],[base,cy-3],[tail,cy-3],[tail,cy+3],[base,cy+3],[base,cy+9]], color);
}
function arrowR(tail, base, tip, cy, color){
  poly([[tip,cy],[base,cy-9],[base,cy-3],[tail,cy-3],[tail,cy+3],[base,cy+3],[base,cy+9]], color);
}
rect(477,109,726,116,GREYBAR);
rect(477,193,726,200,GREYBAR);
arrowL(478,497,591,129,ORANGE);
arrowL(613,630,667,129,ORANGE);
arrowL(671,688,726,129,ORANGE);
arrowR(477,513,532,180,PURPLE);
arrowR(535,571,589,180,PURPLE);
arrowR(612,706,725,180,PURPLE);
(function(){
  const x0=590,x1=613,y0=107,y1=202,r=4;
  const P=(x,y)=>PX(x).toFixed(5)+','+PY(y).toFixed(5);
  const d='M'+P(x0+r,y0)+' L'+P(x1-r,y0)+' Q'+P(x1,y0)+' '+P(x1,y0+r)+' L'+P(x1,y1-r)+' Q'+P(x1,y1)+' '+P(x1-r,y1)+
    ' L'+P(x0+r,y1)+' Q'+P(x0,y1)+' '+P(x0,y1-r)+' L'+P(x0,y0+r)+' Q'+P(x0,y0)+' '+P(x0+r,y0)+' Z';
  S.push({type:'path', xref:'paper', yref:'paper', path:d, fillcolor:GREEN, line:{color:'#000', width:1.5}, layer:'above'});
})();
function txt(x,y,t,opt){ A.push(Object.assign({xref:'paper', yref:'paper', x:PX(x), y:PY(y), showarrow:false, text:t,
  xanchor:'center', yanchor:'middle', font:{size:14, family:FONT, color:'#000'}}, opt||{})); }
txt(601,157,'Origin',{textangle:-90, font:{size:14, family:FONT, color:'#000'}});
txt(527,147,'Leading opposite',{font:{size:14, family:FONT, color:ORANGE}});
txt(671,161,'Leading same',{font:{size:14, family:FONT, color:PURPLE}});
txt(461,110,'5\u2032'); txt(748,110,'3\u2032'); txt(461,199,'3\u2032'); txt(748,199,'5\u2032');
txt(443,102,'<b>d</b>',{font:{size:20, family:FONT, color:'#000'}});
rect(456,253,480,262,PURPLE);
rect(456,267,480,276,ORANGE);
txt(487,257,legendLabels[0],{xanchor:'left'});
txt(487,272,legendLabels[1],{xanchor:'left'});

Plotly.newPlot('chart', traces, layout, {staticPlot:true, displayModeBar:false});
</script>
</body></html>
